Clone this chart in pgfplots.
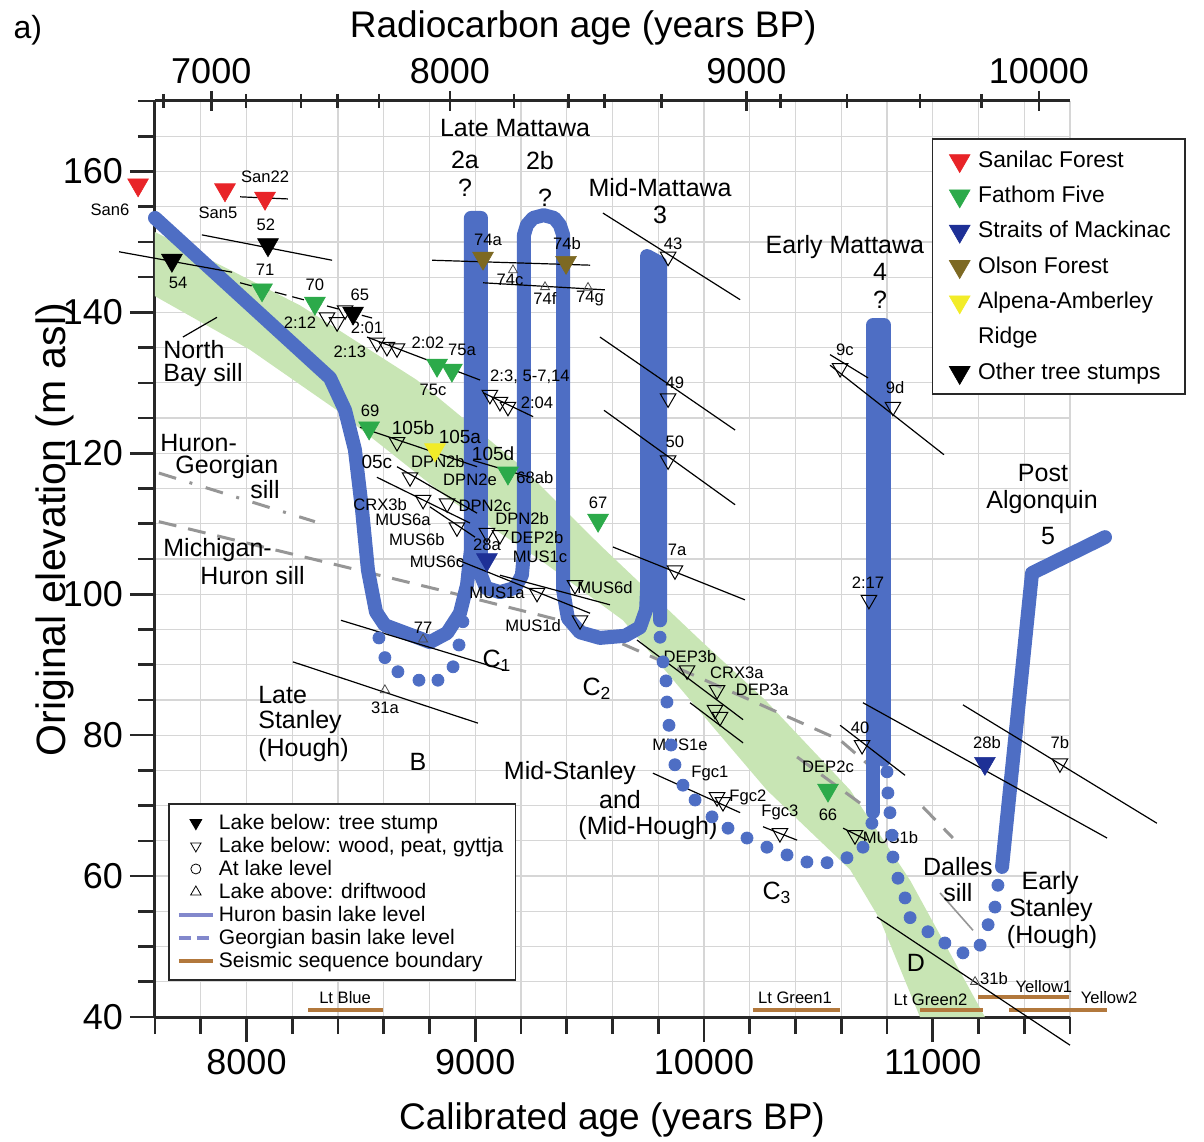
\documentclass[border=0pt]{standalone}
\usepackage{pgfplots}
\pgfplotsset{compat=1.18}
\usepackage{fontspec}
\setmainfont{Liberation Sans}
\setsansfont{Liberation Sans}

\definecolor{huron}{RGB}{78,110,196}
\definecolor{huronleg}{RGB}{130,136,204}
\definecolor{band}{RGB}{200,229,180}
\definecolor{sanilac}{RGB}{232,36,40}
\definecolor{fathom}{RGB}{44,170,74}
\definecolor{straits}{RGB}{30,48,150}
\definecolor{olson}{RGB}{125,105,35}
\definecolor{alpena}{RGB}{242,236,40}
\definecolor{seismic}{RGB}{178,120,60}
\definecolor{sillgray}{RGB}{150,150,150}
\definecolor{gridc}{RGB}{214,214,214}
\definecolor{axc}{RGB}{40,40,40}

\newcommand{\fs}[1]{\fontsize{#1}{#1}\selectfont}

\pgfplotsset{
  stump/.style={only marks, mark=triangle*, mark size=6pt,
    mark options={rotate=180, draw=#1, fill=#1, line width=0.3pt}},
  wood/.style={only marks, mark=triangle, mark size=4.5pt,
    mark options={rotate=180, draw=black, fill=white, line width=0.5pt}},
  drift/.style={only marks, mark=triangle, mark size=2.6pt,
    mark options={draw=black!70, fill=white, line width=0.4pt}},
  bar/.style={black, line width=0.6pt},
  sill/.style={sillgray, line width=1.5pt, dash pattern=on 9pt off 6pt},
  lake/.style={huron, line width=7pt, line cap=round, line join=round},
  dots/.style={only marks, mark=*, mark size=3pt, mark options={draw=huron, fill=huron}},
  seis/.style={seismic, line width=2pt},
}
\tikzset{
  lab/.style={font=\fs{8.3}, inner sep=0pt},
  mid/.style={font=\fs{9.5}, inner sep=0pt},
  big/.style={font=\fontsize{12.5}{14.5}\selectfont, align=center, inner sep=0pt},
}

\begin{document}
\begin{tikzpicture}
\useasboundingbox (-77.5pt,-62pt) rectangle (524.5pt,508.5pt);

% main axis: calibrated age, elevation
\begin{axis}[
  at={(0pt,0pt)}, anchor=south west,
  scale only axis, width=457.5pt, height=458pt,
  xmin=7600, xmax=11600, ymin=40, ymax=170,
  clip=false, scaled ticks=false,
  axis x line*=bottom, axis y line*=left,
  axis line style={axc, line width=1.5pt, -},
  xtick={8000,9000,10000,11000}, xticklabels={8000,9000,10000,11000},
  minor xtick={7600,7800,...,11600},
  ytick={40,60,...,160}, yticklabels={40,60,80,100,120,140,160},
  minor ytick={40,45,...,170},
  tick align=outside,
  major tick length=12.5pt, minor tick length=8.5pt,
  every tick/.style={axc, line width=1.3pt},
  grid=both,
  major grid style={gridc, line width=0.6pt},
  minor grid style={gridc, line width=0.6pt},
  /pgf/number format/assume math mode=true,
  tick label style={font=\fs{18}},
  xlabel={Calibrated age (years BP)},
  ylabel={Original elevation (m asl)},
  xlabel style={at={(axis description cs:0.4995,-0.112)}, anchor=center, font=\fs{18.5}},
  ylabel style={at={(axis description cs:-0.109,0.532)}, anchor=center, font=\fs{20.5}},
  legend style={at={(0.849,0.9596)}, anchor=north west, draw=axc, line width=0.8pt,
    fill=white, font=\fs{11.4}, row sep=3.9pt, inner xsep=5pt, inner ysep=4pt,
    /tikz/every odd column/.append style={column sep=2pt}},
  legend cell align=left,
]
\addlegendimage{stump=sanilac}
\addlegendentry{Sanilac Forest}
\addlegendimage{stump=fathom}
\addlegendentry{Fathom Five}
\addlegendimage{stump=straits}
\addlegendentry{Straits of Mackinac}
\addlegendimage{stump=olson}
\addlegendentry{Olson Forest}
\addlegendimage{stump=alpena}
\addlegendentry{Alpena-Amberley}
\addlegendimage{empty legend}
\addlegendentry{Ridge}
\addlegendimage{stump=black}
\addlegendentry{Other tree stumps}

% green band
\addplot[fill=band, draw=none] coordinates {
  (7600,151.4) (8234,141.0) (8745,130.4) (9196,118.3) (9545,107.0) (9983,93.5)
  (10267,85.0) (10639,72.2) (10901,59.4) (11228,40) (10944,40) (10770,53.8)
  (10639,60.9) (10275,72.2) (9939,85.0) (9646,96.3) (9283,104.9) (8890,113.4)
  (8396,126.1) (8015,134.7) (7600,142.3) };

% Georgian basin / sill lines
\addplot[sill, dash pattern=on 9pt off 7pt on 1.5pt off 7pt] coordinates {(7617,117.2) (8299,110.3)};
\addplot[sill] coordinates {(7617,110.3) (8846,100.6) (9458,95.6) (10201,85.0) (10595,79.3) (10730,75.5)};
\addplot[sill] coordinates {(10407,76.9) (10739,69.0)};
\addplot[sill] coordinates {(10957,69.8) (11088,65.4)};
\addplot[sillgray, line width=0.8pt] coordinates {(11032,57.6) (11176,52.3)};

% Huron basin lake level
\addplot[lake] coordinates {
  (7600,153.4) (8365,130.7) (8431,126.1) (8474,120.5) (8505,112.0) (8531,103.4)
  (8566,97.5) (8605,95.6) (8802,93.2) (8877,94.5) (8933,97.3) (8964,101.3)
  (8981,106.3) (8981,153.4) (9025,153.4) (9025,102.7) (9047,100.9) (9108,100.3)
  (9174,100.9) (9204,102.7) (9213,106.0) (9213,151.0) (9226,152.4) (9253,153.4)
  (9299,153.8) (9345,153.4) (9370,152.4) (9384,151.0) (9384,100.6) (9405,96.6)
  (9458,94.6) (9545,93.8) (9655,94.1) (9720,95.3) (9747,97.8) (9751,100.6)
  (9751,148.0) (9808,147.0) (9808,96.3) };
\addplot[lake] coordinates {(10739,69.1) (10739,138.2) (10787,138.2) (10787,76.5)};
\addplot[lake] coordinates {(11303,61.3) (11434,103.0) (11753,108.1)};
% dotted lake level
\addplot[dots] coordinates {
  (8579,93.8) (8605,91.0) (8662,89.0) (8754,87.8) (8837,87.8) (8903,89.7)
  (8929,92.8) (8946,96.1) };
\addplot[dots] coordinates {
  (9808,93.9) (9821,90.4) (9834,87.7) (9838,84.7) (9847,81.4) (9856,78.6)
  (9873,75.8) (9908,72.9) (9961,70.8) (10035,68.4) (10105,66.8) (10188,65.4)
  (10275,64.1) (10363,63.0) (10450,62.0) (10538,61.9) (10625,62.6) (10695,64.1)
  (10734,67.5) };
\addplot[dots] coordinates {
  (10800,74.8) (10804,71.8) (10813,69.0) (10822,65.8) (10826,62.7) (10848,59.7)
  (10879,56.9) (10901,54.1) (10979,52.1) (11053,50.5) (11132,49.1) (11207,50.2)
  (11242,53.1) (11272,55.6) (11285,58.7) };

% seismic sequence boundaries
\addplot[seis] coordinates {(8269,41.0) (8597,41.0)};
\addplot[seis] coordinates {(10214,41.0) (10595,41.0)};
\addplot[seis] coordinates {(10944,41.0) (11220,41.0)};
\addplot[seis] coordinates {(11198,42.8) (11596,42.8)};
\addplot[seis] coordinates {(11333,41.0) (11762,41.0)};

% age-range bars
\addplot[bar] coordinates {(7972,156.4) (8181,156.1)};
\addplot[bar] coordinates {(7805,151.0) (8374,147.4)};
\addplot[bar] coordinates {(7443,148.6) (7937,145.7)};
\addplot[bar, dash pattern=on 6pt off 3pt] coordinates {(7972,144.2) (8549,139.2)};
\addplot[bar] coordinates {(8527,136.5) (9021,130.4)};
\addplot[bar] coordinates {(9034,128.6) (9253,125.2)};
\addplot[bar] coordinates {(8811,147.4) (9502,146.7)};
\addplot[bar] coordinates {(9034,144.2) (9567,143.2)};
\addplot[bar] coordinates {(9558,154.1) (10158,141.8)};
\addplot[bar] coordinates {(9545,136.5) (10136,123.3)};
\addplot[bar] coordinates {(9563,126.1) (10136,112.7)};
\addplot[bar] coordinates {(9602,106.7) (10179,99.2)};
\addplot[bar] coordinates {(10551,134.0) (10717,130.7)};
\addplot[bar] coordinates {(10551,132.5) (11049,119.8)};
\addplot[bar] coordinates {(10595,81.4) (10879,74.3)};
\addplot[bar] coordinates {(10695,84.6) (11762,65.4)};
\addplot[bar] coordinates {(11132,84.3) (11980,67.5)};
\addplot[bar] coordinates {(10756,54.2) (11600,36.0)};
\addplot[bar] coordinates {(8413,96.3) (9130,89.2)};
\addplot[bar] coordinates {(8203,90.4) (9012,81.7)};
\addplot[bar] coordinates {(8496,123.7) (9008,118.1)};
\addplot[bar] coordinates {(8658,118.1) (9008,111.5)};
\addplot[bar] coordinates {(8570,116.6) (8977,110.1)};
\addplot[bar] coordinates {(8802,112.4) (8999,108.1)};
\addplot[bar] coordinates {(8920,104.9) (9502,97.3)};
\addplot[bar] coordinates {(8990,119.0) (9239,116.6)};
\addplot[bar] coordinates {(9108,102.7) (9589,98.5)};
\addplot[bar] coordinates {(9707,93.5) (10171,82.2)};
\addplot[bar] coordinates {(9939,84.6) (10171,78.9)};
\addplot[bar] coordinates {(9777,74.6) (10158,69.0)};
\addplot[bar] coordinates {(10258,67.0) (10407,65.1)};
\addplot[bar] coordinates {(10608,66.8) (10713,65.1)};
\addplot[bar] coordinates {(7722,136.5) (7871,139.3)};

% wood, peat, gyttja (lake below)
\addplot[wood] coordinates {
  (8352,139.3) (8396,138.6) (8431,140.3) (8570,135.7) (8614,135.1) (8658,134.9)
  (9064,128.3) (9108,127.3) (9143,126.6) (9843,147.9) (9843,127.8) (9843,119.0)
  (9873,103.4) (10595,132.1) (10826,126.6) (10721,99.2) (10691,78.6) (11556,76.0)
  (10660,65.8) (10057,71.2) (10083,70.5) (10332,66.1) (9926,89.2) (10057,86.4)
  (10048,83.6) (10070,82.6) (8658,121.6) (8715,116.6) (8772,113.4) (8877,112.9)
  (8920,109.5) (9051,108.7) (9108,108.4) (9270,100.2) (9436,101.3) (9458,96.3) };
% driftwood (lake above)
\addplot[drift] coordinates {
  (9165,146.0) (9305,143.6) (9493,143.5) (8772,93.6) (8605,86.4) (11185,45.0) };

% tree stumps
\addplot[stump=sanilac] coordinates {(7526,158.1) (7906,157.4) (8081,156.2)};
\addplot[stump=black] coordinates {(8094,149.6) (7674,147.4) (8466,139.9)};
\addplot[stump=fathom] coordinates {
  (8068,143.2) (8299,141.3) (8898,131.8) (8833,132.5) (8536,123.6) (9143,117.2)
  (9537,110.5) (10542,72.2) };
\addplot[stump=alpena] coordinates {(8824,120.5)};
\addplot[stump=straits] coordinates {(9051,104.9) (11228,76.0)};
\addplot[stump=olson] coordinates {(9034,147.7) (9397,147.1)};

% sample labels
\node[lab] at (axis cs:7403,154.5) {San6};
\node[lab] at (axis cs:7875,154.1) {San5};
\node[lab] at (axis cs:8081,159.2) {San22};
\node[lab] at (axis cs:8085,152.4) {52};
\node[lab] at (axis cs:7701,144.2) {54};
\node[lab] at (axis cs:8081,146.0) {71};
\node[lab] at (axis cs:8299,143.9) {70};
\node[lab] at (axis cs:8496,142.5) {65};
\node[lab] at (axis cs:8234,138.6) {2:12};
\node[lab] at (axis cs:8527,137.8) {2:01};
\node[lab] at (axis cs:8452,134.4) {2:13};
\node[lab] at (axis cs:8793,135.7) {2:02};
\node[lab] at (axis cs:8942,134.7) {75a};
\node[lab] at (axis cs:8815,129.0) {75c};
\node[lab] at (axis cs:9239,130.8) {2:3, 5-7,14};
\node[lab] at (axis cs:9270,127.1) {2:04};
\node[lab] at (axis cs:8540,126.1) {69};
\node[lab] at (axis cs:9056,150.3) {74a};
\node[lab] at (axis cs:9401,149.8) {74b};
\node[lab] at (axis cs:9152,144.6) {74c};
\node[lab] at (axis cs:9305,142.0) {74f};
\node[lab] at (axis cs:9502,142.0) {74g};
\node[lab] at (axis cs:9865,149.8) {43};
\node[lab] at (axis cs:9873,130.0) {49};
\node[lab] at (axis cs:9873,121.6) {50};
\node[lab] at (axis cs:9882,106.3) {7a};
\node[lab] at (axis cs:10616,134.7) {9c};
\node[lab] at (axis cs:10835,129.4) {9d};
\node[lab] at (axis cs:10717,101.7) {2:17};
\node[lab] at (axis cs:10682,81.0) {40};
\node[lab] at (axis cs:11556,79.0) {7b};
\node[lab] at (axis cs:11237,79.0) {28b};
\node[lab] at (axis cs:10815,65.4) {MUS1b};
\node[lab] at (axis cs:10026,74.6) {Fgc1};
\node[lab] at (axis cs:10192,71.2) {Fgc2};
\node[lab] at (axis cs:10332,69.0) {Fgc3};
\node[lab] at (axis cs:9939,91.1) {DEP3b};
\node[lab] at (axis cs:10144,88.8) {CRX3a};
\node[lab] at (axis cs:10254,86.4) {DEP3a};
\node[lab] at (axis cs:9895,78.6) {MUS1e};
\node[lab] at (axis cs:10542,75.5) {DEP2c};
\node[lab] at (axis cs:10542,68.7) {66};
\node[lab] at (axis cs:9537,113.0) {67};
\node[lab] at (axis cs:9261,116.5) {68ab};
\node[mid] at (axis cs:8933,122.3) {105a};
\node[mid] at (axis cs:8728,123.6) {105b};
\node[mid] at (axis cs:9078,120.0) {105d};
\node[mid] at (axis cs:8570,118.8) {05c};
\node[lab] at (axis cs:8837,118.8) {DPN2b};
\node[lab] at (axis cs:8977,116.2) {DPN2e};
\node[lab] at (axis cs:8584,112.7) {CRX3b};
\node[lab] at (axis cs:9042,112.6) {DPN2c};
\node[lab] at (axis cs:9205,110.7) {DPN2b};
\node[lab] at (axis cs:8684,110.5) {MUS6a};
\node[lab] at (axis cs:8745,107.7) {MUS6b};
\node[lab] at (axis cs:9270,108.1) {DEP2b};
\node[lab] at (axis cs:9051,107.0) {28a};
\node[lab] at (axis cs:9283,105.3) {MUS1c};
\node[lab] at (axis cs:8833,104.6) {MUS6c};
\node[lab] at (axis cs:9095,100.2) {MUS1a};
\node[lab] at (axis cs:9567,100.9) {MUS6d};
\node[lab] at (axis cs:9253,95.6) {MUS1d};
\node[lab] at (axis cs:8772,95.2) {77};
\node[lab] at (axis cs:8605,83.9) {31a};
\node[lab] at (axis cs:11268,45.5) {31b};
\node[lab] at (axis cs:8431,42.7) {Lt Blue};
\node[lab] at (axis cs:10398,42.7) {Lt Green1};
\node[lab] at (axis cs:10990,42.4) {Lt Green2};
\node[lab] at (axis cs:11486,44.3) {Yellow1};
\node[lab] at (axis cs:11771,42.7) {Yellow2};

% phase annotations
\node[big] at (axis cs:9174,166.2) {Late Mattawa};
\node[big] at (axis cs:8955,161.6) {2a};
\node[big] at (axis cs:8955,157.7) {?};
\node[big] at (axis cs:9283,161.6) {2b};
\node[big] at (axis cs:9305,156.2) {?};
\node[big] at (axis cs:9808,157.7) {Mid-Mattawa};
\node[big] at (axis cs:9808,153.8) {3};
\node[big] at (axis cs:10616,149.3) {Early Mattawa};
\node[big] at (axis cs:10770,145.7) {4};
\node[big] at (axis cs:10770,141.8) {?};
\node[big] at (axis cs:11482,117.2) {Post};
\node[big] at (axis cs:11478,113.1) {Algonquin};
\node[big] at (axis cs:11504,108.3) {5};
\node[big, align=left, anchor=west, font=\fontsize{12.5}{11.5}\selectfont]
  at (axis cs:7635,132.8) {North\\Bay sill};
\node[big, align=left, anchor=west, font=\fontsize{12.5}{11}\selectfont]
  at (axis cs:7622,119.6) {Huron-\\\hspace*{7.5pt}Georgian};
\node[big] at (axis cs:8081,114.8) {sill};
\node[big, anchor=west] at (axis cs:7635,106.3) {Michigan-};
\node[big, anchor=west] at (axis cs:7797,102.7) {Huron sill};
\node[big, anchor=west] at (axis cs:8050,85.7) {Late};
\node[big, anchor=west] at (axis cs:8050,81.8) {Stanley};
\node[big, anchor=west] at (axis cs:8050,77.9) {(Hough)};
\node[big] at (axis cs:8750,76.2) {B};
\node[big] at (axis cs:9095,90.6) {C\textsubscript{1}};
\node[big] at (axis cs:9532,86.6) {C\textsubscript{2}};
\node[big] at (axis cs:10319,57.6) {C\textsubscript{3}};
\node[big] at (axis cs:10926,47.7) {D};
\node[big] at (axis cs:9414,74.6) {Mid-Stanley};
\node[big] at (axis cs:9633,70.8) {and};
\node[big] at (axis cs:9755,66.8) {(Mid-Hough)};
\node[big] at (axis cs:11110,61.4) {Dalles};
\node[big] at (axis cs:11110,57.7) {sill};
\node[big] at (axis cs:11513,59.0) {Early};
\node[big] at (axis cs:11517,55.2) {Stanley};
\node[big] at (axis cs:11522,51.4) {(Hough)};
\end{axis}

% top axis: radiocarbon age, and the symbol legend
\begin{axis}[
  at={(0pt,0pt)}, anchor=south west,
  scale only axis, width=457.5pt, height=458pt,
  xmin=7600, xmax=11600, ymin=40, ymax=170,
  clip=false, scaled ticks=false,
  axis x line*=top, axis y line=none,
  axis line style={axc, line width=1.5pt, -},
  xtick={7846,8889,10185,11464}, xticklabels={7000,8000,9000,10000},
  minor xtick={7637,7998,8239,8399,8580,9169,9407,9565,9813,10335,10625,10945,11212},
  tick align=center, major tick length=10pt, minor tick length=7pt,
  every tick/.style={axc, line width=1.3pt},
  tick label style={font=\fs{18}},
  xlabel={Radiocarbon age (years BP)},
  xlabel style={at={(axis description cs:0.468,1.0797)}, anchor=center, font=\fs{18.5}},
  legend style={at={(0.0142,0.2336)}, anchor=north west, draw=axc, line width=0.8pt,
    fill=white, font=\fs{10.5}, row sep=-1.6pt, inner xsep=4pt, inner ysep=3pt},
  legend cell align=left,
]
\addlegendimage{only marks, mark=triangle*, mark size=3pt, mark options={rotate=180, fill=black}}
\addlegendentry{Lake below: tree stump}
\addlegendimage{only marks, mark=triangle, mark size=3pt, mark options={rotate=180, line width=0.4pt}}
\addlegendentry{Lake below: wood, peat, gyttja}
\addlegendimage{only marks, mark=o, mark size=2.5pt, mark options={line width=0.4pt}}
\addlegendentry{At lake level}
\addlegendimage{only marks, mark=triangle, mark size=3pt, mark options={line width=0.4pt}}
\addlegendentry{Lake above: driftwood}
\addlegendimage{huronleg, line width=2pt}
\addlegendentry{Huron basin lake level}
\addlegendimage{huronleg, line width=2pt, dash pattern=on 6pt off 3pt}
\addlegendentry{Georgian basin lake level}
\addlegendimage{seismic, line width=2pt}
\addlegendentry{Seismic sequence boundary}
\node[font=\fs{16}] at (axis description cs:-0.139,1.0775) {a)};
\end{axis}
\end{tikzpicture}
\end{document}
